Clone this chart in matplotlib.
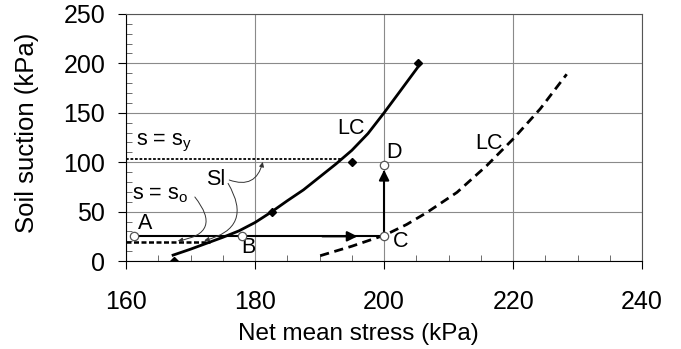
"""
LC yield curves in net mean stress / suction space, with the A-B-C-D stress path.
"""
import matplotlib.pyplot as plt

plt.rcParams["font.family"] = ["Liberation Sans", "DejaVu Sans"]

# --------- DATA ---------
# initial LC curve (solid)
lc0_p = [167.3, 170.0, 172.5, 175.0, 177.5, 180.0, 182.5, 185.0, 187.5, 190.0, 192.5, 195.0, 197.5, 200.0, 202.5, 205.1]
lc0_s = [6, 12, 18, 24, 30.5, 39, 49.5, 61, 72, 85, 98, 112, 129, 150, 172, 195]
# shifted LC curve (dashed)
lc1_p = [190.1, 195.0, 200.2, 203.5, 206.6, 211.3, 215.9, 220.0, 224.2, 228.3]
lc1_s = [5.4, 15, 26.5, 37, 49, 69.5, 96.5, 123.5, 154, 189]
# diamond markers on the solid curve
diam_p = [167.5, 182.6, 195.0, 205.3]
diam_s = [0, 50, 100, 200]
# stress path points
pts = {"A": (161.2, 25), "B": (178.0, 25.5), "C": (200.0, 25), "D": (200.0, 97)}
s_y, s_y_end = 103, 193.4
s_o, s_o_end = 19.5, 173.0

fig = plt.figure(figsize=(6.81, 3.49), dpi=100)
ax = fig.add_axes([0.185, 0.252, 0.758, 0.708])

ax.set_xlim(160, 240)
ax.set_ylim(0, 250)
ax.set_xticks([160, 180, 200, 220, 240])
ax.set_yticks([0, 50, 100, 150, 200, 250])
ax.set_xticks(range(160, 241, 5), minor=True)
ax.set_yticks(range(0, 251, 10), minor=True)
ax.tick_params(which="major", direction="out", length=6, width=0.8, labelsize=18)
ax.tick_params(axis="x", which="major", pad=15)
ax.tick_params(axis="y", which="major", pad=9)
ax.tick_params(which="minor", direction="in", length=4.5, width=0.6, color="#555555")
ax.grid(True, which="major", color="#8a8a8a", linewidth=0.8)
for side in ["top", "right"]:
    ax.spines[side].set_color("#555555")

ax.set_xlabel("Net mean stress (kPa)", fontsize=17.5)
ax.xaxis.set_label_coords(0.45, -0.25)
ax.set_ylabel("Soil suction (kPa)", fontsize=18.5)
ax.yaxis.set_label_coords(-0.192, 0.52)
ax.yaxis.label.set_verticalalignment("center")

# LC curves
ax.plot(lc0_p, lc0_s, color="black", linewidth=2.0, zorder=4)
ax.plot(lc1_p, lc1_s, color="black", linewidth=2.0, dashes=(3.3, 2.0), zorder=4)
ax.plot(diam_p, diam_s, linestyle="none", marker="D", markersize=4.5, color="black", zorder=5)

# s = s_y and s = s_o lines
ax.plot([160, s_y_end], [s_y, s_y], color="black", linewidth=1.3, dashes=(1.5, 1), zorder=3)
ax.plot([160, s_o_end], [s_o, s_o], color="black", linewidth=1.8, dashes=(2, 1), zorder=3)

# stress path A -> C -> D
ax.plot([pts["A"][0], pts["C"][0]], [25, 25], color="black", linewidth=1.5, zorder=3)
ax.annotate("", xy=(196.3, 25), xytext=(190.0, 25),
            arrowprops=dict(arrowstyle="-|>", color="black", lw=1.5, mutation_scale=15), zorder=5)
ax.plot([200, 200], [25, 90], color="black", linewidth=1.5, zorder=3)
ax.annotate("", xy=(200, 95), xytext=(200, 80),
            arrowprops=dict(arrowstyle="-|>", color="black", lw=1.5, mutation_scale=15), zorder=5)
for name, (px, py) in pts.items():
    ax.plot(px, py, marker="o", markersize=6, markerfacecolor="white",
            markeredgecolor="#555555", markeredgewidth=0.9, zorder=6)

# point and curve labels
fs = 15.5
ax.text(161.9, 37.5, "A", fontsize=fs, ha="left", va="center")
ax.text(177.8, 14, "B", fontsize=fs, ha="left", va="center")
ax.text(201.3, 19.5, "C", fontsize=fs, ha="left", va="center")
ax.text(200.4, 110, "D", fontsize=fs, ha="left", va="center")
ax.text(192.8, 134.6, "LC", fontsize=fs, ha="left", va="center")
ax.text(214.2, 119.4, "LC", fontsize=fs, ha="left", va="center")
ax.text(161.5, 119.5, r"s = s$_\mathregular{y}$", fontsize=fs, ha="left", va="center")
ax.text(161.0, 67, r"s = s$_\mathregular{o}$", fontsize=fs, ha="left", va="center")
ax.text(172.4, 83, "Sl", fontsize=fs, ha="left", va="center")

# thin leader curves to the small arrows
thin = dict(arrowstyle="-|>", color="#333333", lw=0.7, mutation_scale=7)
ax.annotate("", xy=(167.6, s_o + 0.5), xytext=(170.4, 67),
            arrowprops=dict(connectionstyle="arc3,rad=-0.9", **thin))
ax.annotate("", xy=(171.7, s_o + 0.5), xytext=(175.6, 81),
            arrowprops=dict(connectionstyle="arc3,rad=-0.7", **thin))
ax.annotate("", xy=(181.3, s_y), xytext=(175.6, 83),
            arrowprops=dict(connectionstyle="arc3,rad=0.6", **thin))

fig.savefig("out.png", dpi=100)
